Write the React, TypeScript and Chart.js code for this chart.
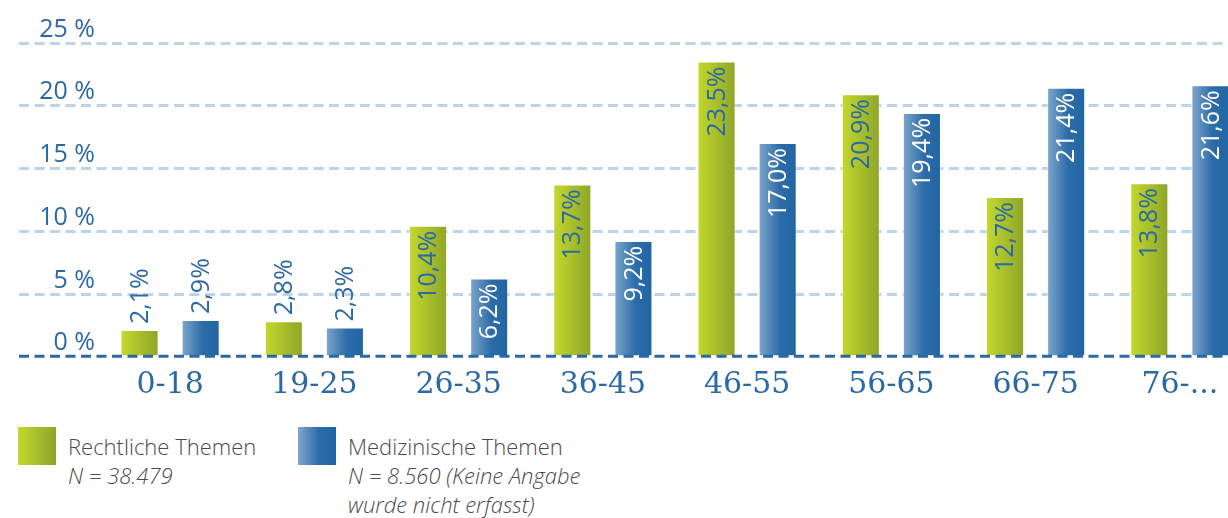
import React, { useEffect, useRef } from 'react';
import { Chart, registerables } from 'chart.js';

Chart.register(...registerables);

// ---- data ----
const categories = ['0-18', '19-25', '26-35', '36-45', '46-55', '56-65', '66-75', '76-...'];
const rechtlicheValues = [2.1, 2.8, 10.4, 13.7, 23.5, 20.9, 12.7, 13.8];
const medizinischeValues = [2.9, 2.3, 6.2, 9.2, 17.0, 19.4, 21.4, 21.6];
const yTickValues = [0, 5, 10, 15, 20, 25];
const seriesNames = ['Rechtliche Themen', 'Medizinische Themen'];
const seriesNotes = [['N = 38.479'], ['N = 8.560 (Keine Angabe', 'wurde nicht erfasst)']];

// ---- styles ----
const BLUE_TEXT = '#2b69a6';
const GREEN_STOPS: [number, string][] = [[0, '#c3d92d'], [1, '#8ea52a']];
const BLUE_STOPS: [number, string][] = [[0, '#7fa7cb'], [0.55, '#2c6ca8'], [1, '#2165a3']];
const GRID_COLOR = '#bdd3e7';
const ZERO_COLOR = '#2a68a6';
const GRID_LEFT = 19;

const fmt = (v: number) => v.toFixed(1).replace('.', ',') + '%';

const decorPlugin = {
  id: 'decor',
  beforeDatasetsDraw(chart: any) {
    const ctx = chart.ctx as CanvasRenderingContext2D;
    const y = chart.scales.y;
    ctx.save();
    ctx.setLineDash([10, 5.5]);
    ctx.lineWidth = 3;
    ctx.strokeStyle = GRID_COLOR;
    yTickValues.forEach((v) => {
      if (v === 0) return;
      const py = Math.round(y.getPixelForValue(v)) + 0.5;
      ctx.beginPath();
      ctx.moveTo(GRID_LEFT, py);
      ctx.lineTo(chart.width, py);
      ctx.stroke();
    });
    ctx.setLineDash([]);
    ctx.font = '25px "Open Sans"';
    ctx.fillStyle = BLUE_TEXT;
    ctx.textAlign = 'right';
    ctx.textBaseline = 'alphabetic';
    yTickValues.forEach((v) => {
      ctx.fillText(`${v} %`, 95, y.getPixelForValue(v) - 6);
    });
    ctx.restore();

    // gradient fills from bar geometry
    const stopsList = [GREEN_STOPS, BLUE_STOPS];
    chart.data.datasets.forEach((_ds: any, di: number) => {
      const meta = chart.getDatasetMeta(di);
      meta.data.forEach((el: any) => {
        const { x, width } = el.getProps(['x', 'width'], true);
        const g = ctx.createLinearGradient(x - width / 2, 0, x + width / 2, 0);
        stopsList[di].forEach(([o, c]) => g.addColorStop(o, c));
        el.options.backgroundColor = g;
      });
    });
  },
  afterDatasetsDraw(chart: any) {
    const ctx = chart.ctx as CanvasRenderingContext2D;
    const y = chart.scales.y;
    ctx.save();
    // zero line
    ctx.setLineDash([10, 5.5]);
    ctx.lineWidth = 3;
    ctx.strokeStyle = ZERO_COLOR;
    const py0 = y.getPixelForValue(0);
    ctx.beginPath();
    ctx.moveTo(GRID_LEFT, py0);
    ctx.lineTo(chart.width, py0);
    ctx.stroke();
    ctx.setLineDash([]);

    // value labels
    ctx.font = '25px "Open Sans"';
    ctx.textBaseline = 'middle';
    chart.data.datasets.forEach((ds: any, di: number) => {
      const meta = chart.getDatasetMeta(di);
      meta.data.forEach((el: any, i: number) => {
        const text = fmt(ds.data[i]);
        const w = ctx.measureText(text).width;
        const { x, y: top, base } = el.getProps(['x', 'y', 'base'], true);
        const h = base - top;
        ctx.save();
        if (h >= w + 12) {
          ctx.translate(x + 1, top + 5);
          ctx.rotate(-Math.PI / 2);
          ctx.textAlign = 'right';
          ctx.fillStyle = di === 0 ? BLUE_TEXT : '#ffffff';
        } else {
          ctx.translate(x + 1, top - 6);
          ctx.rotate(-Math.PI / 2);
          ctx.textAlign = 'left';
          ctx.fillStyle = BLUE_TEXT;
        }
        ctx.fillText(text, 0, 0);
        ctx.restore();
      });
    });
    ctx.restore();
  },
};

export default function App() {
  const canvasRef = useRef<HTMLCanvasElement | null>(null);

  useEffect(() => {
    document.body.style.margin = '0';
    const canvas = canvasRef.current;
    if (!canvas) return;
    const chart = new Chart(canvas, {
      type: 'bar',
      data: {
        labels: categories,
        datasets: [
          {
            label: seriesNames[0],
            data: rechtlicheValues,
            backgroundColor: () => '#a9c02c',
            borderColor: 'rgba(255,255,255,0.45)',
            borderWidth: 1,
            borderSkipped: false,
            categoryPercentage: 0.847,
            barPercentage: 0.623,
          },
          {
            label: seriesNames[1],
            data: medizinischeValues,
            backgroundColor: () => '#2c6ca8',
            borderColor: 'rgba(255,255,255,0.45)',
            borderWidth: 1,
            borderSkipped: false,
            categoryPercentage: 0.847,
            barPercentage: 0.623,
          },
        ],
      },
      options: {
        responsive: false,
        animation: false,
        events: [],
        layout: { padding: { left: 98, right: 0, top: 42.7, bottom: 9.7 } },
        plugins: {
          legend: { display: false },
          tooltip: { enabled: false },
        },
        scales: {
          x: {
            grid: { display: false, drawTicks: false },
            border: { display: false },
            ticks: {
              color: BLUE_TEXT,
              font: { family: '"DejaVu Serif"', size: 30 },
              padding: 11,
              maxRotation: 0,
              autoSkip: false,
            },
          },
          y: { display: false, min: 0, max: 25 },
        },
      },
      plugins: [decorPlugin],
    } as any);
    return () => chart.destroy();
  }, []);

  const textStyle: React.CSSProperties = {
    position: 'absolute',
    top: 432,
    fontFamily: '"Open Sans"',
    fontWeight: 300,
    fontSize: 22,
    lineHeight: '29px',
    color: '#4a4a4a',
    whiteSpace: 'nowrap',
  };

  return (
    <div style={{ position: 'relative', width: 1228, height: 518, overflow: 'hidden', background: '#ffffff' }}>
      <canvas ref={canvasRef} width={1252} height={424} style={{ position: 'absolute', left: 0, top: 0, display: 'block' }} />
      <div style={{ position: 'absolute', left: 18, top: 427, width: 38, height: 38, background: `linear-gradient(to right, ${GREEN_STOPS[0][1]}, ${GREEN_STOPS[1][1]})` }} />
      <div style={{ ...textStyle, left: 68 }}>
        <div>{seriesNames[0]}</div>
        {seriesNotes[0].map((l) => (
          <div key={l} style={{ fontStyle: 'italic' }}>{l}</div>
        ))}
      </div>
      <div style={{ position: 'absolute', left: 298, top: 427, width: 38, height: 38, background: `linear-gradient(to right, ${BLUE_STOPS[0][1]}, ${BLUE_STOPS[1][1]} 55%, ${BLUE_STOPS[2][1]})` }} />
      <div style={{ ...textStyle, left: 348 }}>
        <div>{seriesNames[1]}</div>
        {seriesNotes[1].map((l) => (
          <div key={l} style={{ fontStyle: 'italic' }}>{l}</div>
        ))}
      </div>
    </div>
  );
}
